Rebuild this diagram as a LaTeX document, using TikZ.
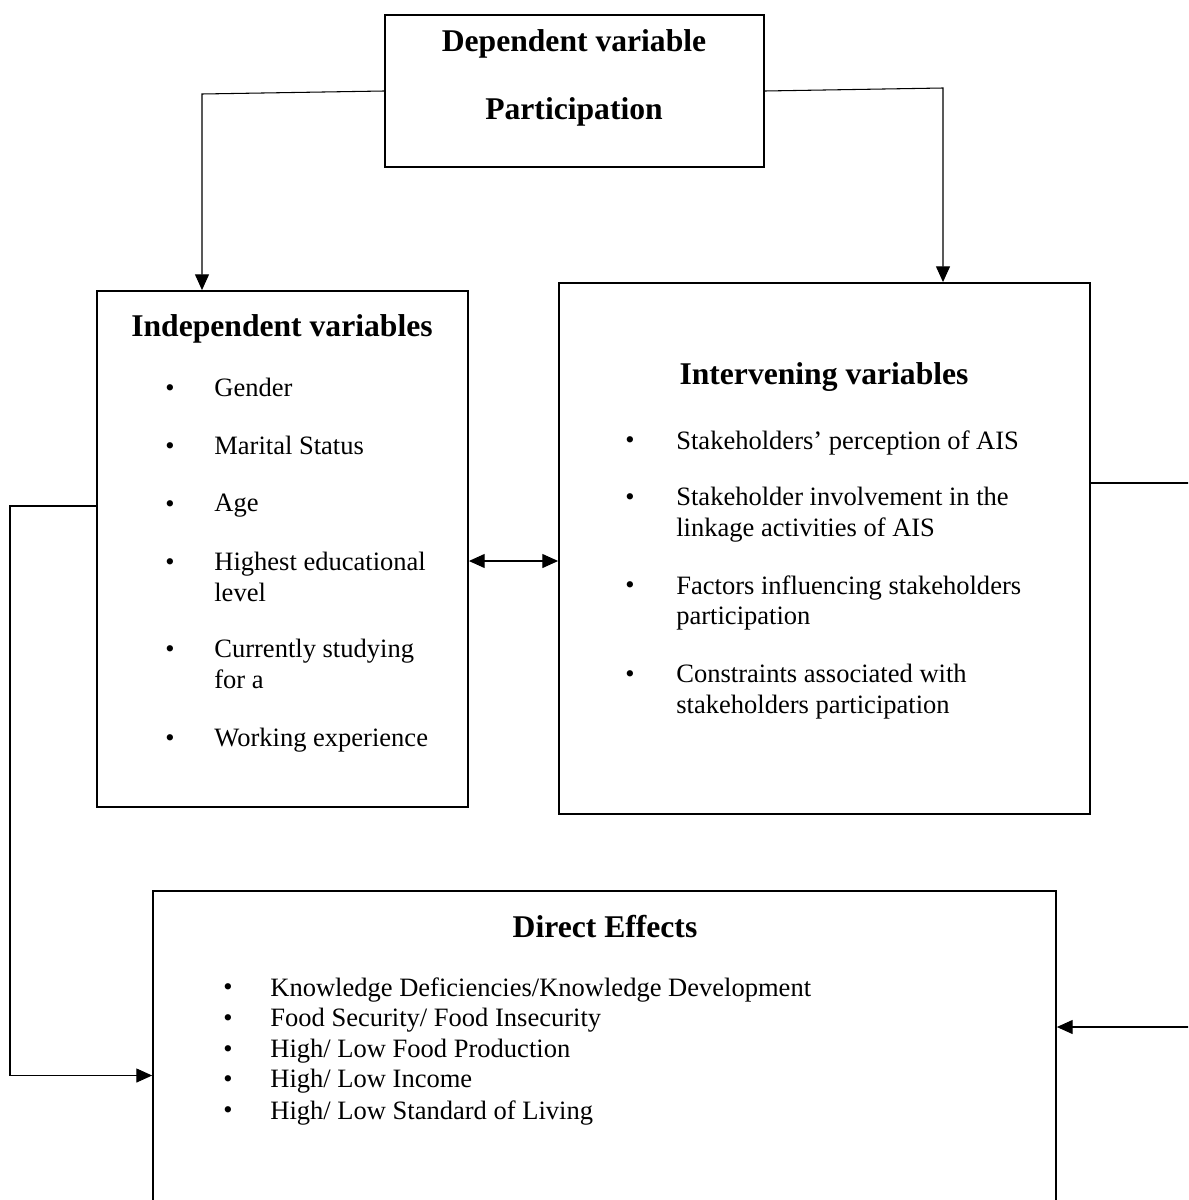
\documentclass[tikz,border=0pt]{standalone}
\usepackage{fontspec}
\setmainfont{Liberation Serif}
\usetikzlibrary{arrows.meta}

\begin{document}
\begin{tikzpicture}[x=0.02cm,y=-0.02cm,
  box/.style = {draw, line width=1.1pt, inner sep=0pt},
  head/.style = {font=\fontsize{18}{21}\selectfont\bfseries, inner sep=0pt},
  bul/.style = {font=\fontsize{15}{17.5}\selectfont, inner sep=0pt},
  itm/.style = {font=\fontsize{15.1}{17.6}\selectfont, align=left, anchor=north west, inner sep=0pt},
  conn/.style = {line width=0.6pt},
  tip/.style = {-{Triangle[length=9pt,width=8pt]}}]
  \useasboundingbox (0,0) rectangle (1188,1200);
  \clip (0,0) rectangle (1188,1200);

  % boxes
  \node[box, minimum width=7.58cm, minimum height=3.04cm] (dep) at (574.5,91) {};
  \node[box, minimum width=7.42cm, minimum height=10.32cm] (ind) at (282.5,549) {};
  \node[box, minimum width=10.62cm, minimum height=10.62cm] (int) at (824.5,548.5) {};
  \node[box, minimum width=18.06cm, minimum height=7.38cm] (dir) at (604.5,1075.5) {};

  % headings
  \node[head] (dep1) at (574,44) {Dependent variable};
  \node[head] (dep2) at (574,112) {Participation};
  \node[head] (indh) at (282,329) {Independent variables};
  \node[head] (inth) at (824,377) {Intervening variables};
  \node[head] (dirh) at (605,927) {Direct Effects};

  % independent variables
  \foreach \y/\t [count=\i] in {387/Gender, 445/Marital Status, 503/Age,
      561/{Highest educational\\level}, 648/{Currently studying\\for a},
      737/Working experience} {
    \node[bul] (indb\i) at (170,\y+4) {\textbullet};
    \node[itm] (indi\i) at (214,\y-9) {\t};
  }

  % intervening variables
  \foreach \y/\t [count=\i] in {439/Stakeholders’ perception of AIS,
      496/{Stakeholder involvement in the\\linkage activities of AIS},
      584/{Factors influencing stakeholders\\participation},
      673/{Constraints associated with\\stakeholders participation}} {
    \node[bul] (intb\i) at (630,\y+4) {\textbullet};
    \node[itm] (inti\i) at (676,\y-9) {\t};
  }

  % direct effects
  \foreach \y/\t [count=\i] in {986/{Knowledge Deficiencies/Knowledge Development},
      1017/{Food Security/ Food Insecurity}, 1048/{High/ Low Food Production},
      1078/{High/ Low Income}, 1109/{High/ Low Standard of Living}} {
    \node[bul] (dirb\i) at (228,\y+4) {\textbullet};
    \node[itm] (diri\i) at (270,\y-9) {\t};
  }

  % connectors
  \coordinate (tl) at (202,94);
  \coordinate (tr) at (943,88);
  \coordinate (mid) at (514,561);
  \coordinate (lt) at (10,506);
  \coordinate (rt) at (1200,483);
  \coordinate (rb) at (1200,1027);
  \draw[conn,tip] (dep.west) -- (tl) -- (tl |- ind.north);
  \draw[conn,tip] (dep.east) -- (tr) -- (tr |- int.north);
  \draw[conn,{Triangle[length=9pt,width=8pt]}-{Triangle[length=9pt,width=8pt]}]
    (ind.east |- mid) -- (int.west |- mid);
  \draw[conn,tip] (ind.west |- lt) -- (lt) |- (dir.west);
  \draw[conn,tip] (int.east |- rt) -- (rt) -- (rb) -- (dir.east |- rb);
\end{tikzpicture}
\end{document}
